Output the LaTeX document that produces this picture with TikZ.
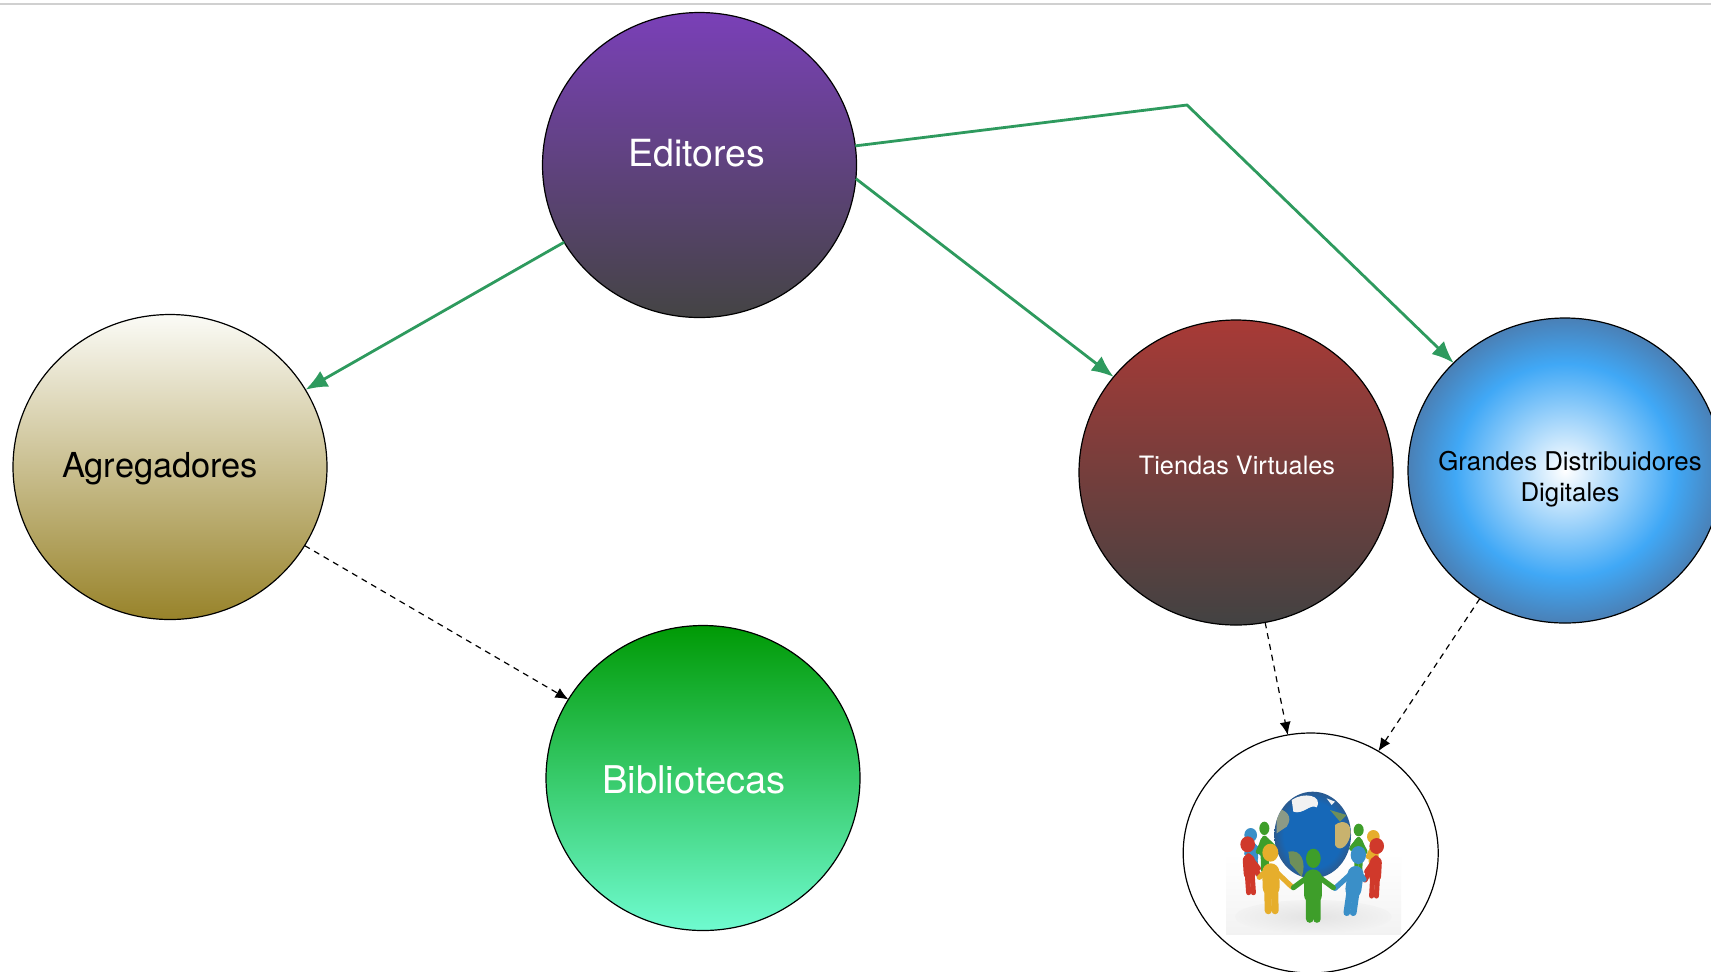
\documentclass[tikz,border=0pt]{standalone}
\usepackage{fontspec}
\setmainfont{TeX Gyre Heros}
\usetikzlibrary{shapes.geometric,arrows.meta,calc}
\definecolor{arrowgreen}{HTML}{2E9A5E}
\definecolor{topline}{HTML}{D0D0D0}
\definecolor{edtop}{HTML}{7A40B8}
\definecolor{edbot}{HTML}{444444}
\definecolor{agtop}{HTML}{FBFBF6}
\definecolor{agbot}{HTML}{98832A}
\definecolor{bitop}{HTML}{009A05}
\definecolor{bibot}{HTML}{6FFBD0}
\definecolor{titop}{HTML}{A83A36}
\definecolor{tibot}{HTML}{424242}
\definecolor{gdmid}{HTML}{40A8F6}
\definecolor{gdedge}{HTML}{4A80B6}
\definecolor{globeblue}{HTML}{1668B8}
\definecolor{globedark}{HTML}{2A5A90}
\definecolor{landtan}{HTML}{C8B26E}
\definecolor{landgreen}{HTML}{6E8F5A}
\definecolor{landgrey}{HTML}{8C9A86}
\definecolor{pred}{HTML}{D0392B}
\definecolor{pyellow}{HTML}{E6AE2C}
\definecolor{pgreen}{HTML}{3E9E2A}
\definecolor{pblue}{HTML}{3A8FC8}
\pgfdeclareradialshading{gdshade}{\pgfpoint{0bp}{0bp}}{color(0bp)=(white); color(17.5bp)=(gdmid); color(25bp)=(gdedge); color(50bp)=(gdedge)}
\pgfdeclareradialshading{globeshade}{\pgfpoint{0bp}{0bp}}{color(0bp)=(globeblue); color(19bp)=(globeblue); color(25bp)=(globedark); color(50bp)=(globedark)}
\tikzset{
  bubble/.style={ellipse,draw=black,line width=0.6pt,minimum width=157pt,minimum height=152.5pt,inner sep=0pt,outer sep=0pt},
  caption/.style={inner sep=0pt,align=center},
  solidarrow/.style={draw=arrowgreen,line width=1.4pt,-{Latex[length=11pt,width=9pt]}},
  dasharrow/.style={draw=black,line width=0.6pt,dash pattern=on 3pt off 2.5pt,-{Latex[length=6.5pt,width=5.5pt]}},
}
% #1 head, #2 feet, #3 torso width, #4 and #5 hands, #6 colour, #7 #8 head radii
\newcommand{\personfig}[8]{%
  \coordinate (pH) at #1; \coordinate (pF) at #2;
  \coordinate (pN) at ($(pH)!0.33!(pF)$); \coordinate (pW) at ($(pH)!0.6!(pF)$);
  \pgfmathsetmacro{\legw}{0.42*#3}
  \fill[#6] (pH) ellipse [x radius=#7,y radius=#8];
  \draw[#6,line width=#3 pt,line cap=round] (pN) -- (pW);
  \draw[#6,line width=2.6pt,line cap=round] ($(pH)!0.24!(pF)$) -- #4;
  \draw[#6,line width=2.6pt,line cap=round] ($(pH)!0.24!(pF)$) -- #5;
  \draw[#6,line width=\legw pt,line cap=round] ($(pW)+(-#3*1.2,0)$) -- ($(pF)+(-#3*1.2,0)$);
  \draw[#6,line width=\legw pt,line cap=round] ($(pW)+(#3*1.2,0)$) -- ($(pF)+(#3*1.2,0)$);
}
\begin{document}
\begin{tikzpicture}[x=0.5pt,y=-0.5pt]
\useasboundingbox (0,0) rectangle (1711,971);
\draw[topline,line width=1pt] (0,4) -- (1711,4);
\node[bubble,top color=edtop,bottom color=edbot] (ed) at (699.5,165) {};
\node[bubble,top color=agtop,bottom color=agbot] (ag) at (170,467) {};
\node[bubble,top color=bitop,bottom color=bibot] (bi) at (703,778) {};
\node[bubble,top color=titop,bottom color=tibot] (ti) at (1236,472.5) {};
\node[bubble,shading=gdshade] (gd) at (1565,470.5) {};
\node[ellipse,draw=black,line width=0.6pt,minimum width=127.5pt,minimum height=120pt,inner sep=0pt,outer sep=0pt,fill=white] (wd) at (1310.7,853) {};
\node[caption,text=white,font=\fontsize{18.7}{22}\selectfont] (edt) at (696.5,153.5) {Editores};
\node[caption,text=black,font=\fontsize{17.2}{20}\selectfont] (agt) at (160,469) {Agregadores};
\node[caption,text=white,font=\fontsize{19.1}{22}\selectfont] (bit) at (694,780) {Bibliotecas};
\node[caption,text=white,font=\fontsize{12.65}{15.3}\selectfont] (tit) at (1237,465) {Tiendas Virtuales};
\node[caption,text=black,font=\fontsize{12.9}{15.3}\selectfont] (gdt) at (1570,479) {Grandes Distribuidores\\Digitales};
\coordinate (bend) at (1187,105);
\draw[solidarrow] (ed) -- (ag);
\draw[solidarrow] (ed.-5) -- (ti.142);
\draw[solidarrow] (ed.7) -- (bend) -- (gd.136);
\draw[dasharrow] (ag) -- (bi);
\draw[dasharrow] (ti.-79) -- (wd.101);
\draw[dasharrow] (gd) -- (wd);
% picture inside the last circle, in 3x crop coordinates
\begin{scope}[shift={(1170,720)},x=0.16667pt,y=-0.16667pt]
  \shade[top color=white,bottom color=black!5] (168,400) rectangle (693,643);
  \shade[inner color=black!11,outer color=black!5] (430,590) ellipse [x radius=235,y radius=50];
  \personfig{(242,345)}{(255,460)}{5}{(275,400)}{(230,400)}{pblue}{19}{21}
  \personfig{(283,325)}{(285,450)}{5}{(320,390)}{(265,395)}{pgreen}{15}{20}
  \personfig{(566,330)}{(565,450)}{5}{(545,385)}{(585,395)}{pgreen}{15}{19}
  \personfig{(610,350)}{(612,480)}{5}{(595,410)}{(625,470)}{pyellow}{19}{20}
  \begin{scope}
    \path[clip] (428,345) ellipse [x radius=115,y radius=130];
    \shade[shading=globeshade] (428,345) ellipse [x radius=115,y radius=130];
    \fill[white!90!gray] (365,240) .. controls (400,215) and (460,225) .. (440,262) .. controls (420,250) and (400,285) .. (370,275) -- cycle;
    \fill[white!90!gray] (470,235) -- (495,245) -- (485,255) -- cycle;
    \fill[landgrey] (320,265) .. controls (350,270) and (370,290) .. (350,320) -- (320,340) -- cycle;
    \fill[landgreen] (355,395) .. controls (395,385) and (410,430) .. (395,470) -- (360,430) -- cycle;
    \fill[landtan] (495,315) .. controls (520,295) and (550,310) .. (540,350) .. controls (530,385) and (505,395) .. (495,375) -- cycle;
    \fill[landgreen] (480,270) -- (530,285) -- (510,305) -- cycle;
  \end{scope}
  \personfig{(233,373)}{(243,518)}{6}{(268,468)}{(265,445)}{pred}{22}{24}
  \personfig{(620,378)}{(612,528)}{6}{(585,480)}{(590,455)}{pred}{22}{24}
  \personfig{(301,398)}{(305,572)}{8.5}{(365,500)}{(268,472)}{pyellow}{24}{27}
  \personfig{(565,405)}{(540,578)}{8}{(495,505)}{(582,478)}{pblue}{23}{27}
  \personfig{(430,415)}{(430,597)}{9}{(370,503)}{(490,503)}{pgreen}{22}{29}
\end{scope}
\end{tikzpicture}
\end{document}
